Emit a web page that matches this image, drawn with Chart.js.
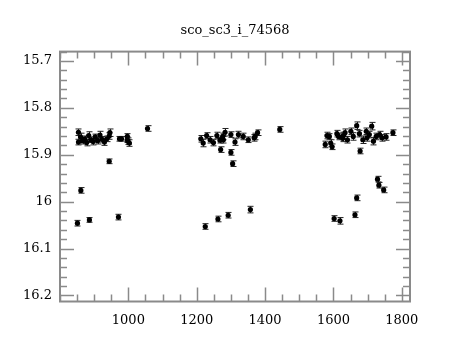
<!DOCTYPE html>
<html><head><meta charset="utf-8">
<script src="https://cdn.jsdelivr.net/npm/chart.js@4"></script>
<style>html,body{margin:0;padding:0;background:#fff}</style></head><body>
<canvas id="c" width="460" height="340" style="width:460px;height:340px;display:block"></canvas>
<script>
const titleText = 'sco_sc3_i_74568';
const jd = [
 854,854,861,851,886,944,971,1056,
 860,866,872,878,884,890,897,903,910,917,923,930,937,944,946,
 974,980,997,1003,997,999,
 1270,1300,1305,1225,1262,1292,1357,1443,
 1300,1322,1312,1336,1351,1371,1378,1368,
 1212,1219,1229,1239,1249,1259,1268,1276,1283,1278,
 1576,1581,1588,1592,1596,1602,1619,1663,1668,1678,1729,1733,1747,1774,
 1610,1615,1627,1634,1641,1651,1658,1668,1676,1686,1696,1705,1712,1717,1725,1735,1742,1754,1629,1698
];
const mag = [
 15.852,15.873,15.976,16.046,16.039,15.914,16.033,15.844,
 15.862,15.870,15.866,15.874,15.859,15.868,15.872,15.862,15.870,15.858,15.867,15.873,15.866,15.860,15.853,
 15.866,15.866,15.868,15.875,15.861,15.871,
 15.889,15.895,15.919,16.053,16.037,16.029,16.017,15.846,
 15.857,15.857,15.873,15.861,15.868,15.861,15.853,15.864,
 15.866,15.875,15.859,15.868,15.874,15.859,15.869,15.861,15.852,15.868,
 15.878,15.859,15.861,15.875,15.883,16.036,16.041,16.028,15.992,15.892,15.952,15.965,15.975,15.853,
 15.855,15.861,15.865,15.853,15.868,15.850,15.861,15.838,15.855,15.868,15.850,15.857,15.839,15.871,15.861,15.857,15.864,15.862,15.859,15.864
];
const err = [
 0.007,0.006,0.006,0.006,0.005,0.005,0.006,0.006,
 0.008,0.007,0.006,0.007,0.008,0.006,0.007,0.006,0.007,0.008,0.006,0.007,0.006,0.007,0.008,
 0.005,0.005,0.006,0.007,0.006,0.007,
 0.006,0.006,0.006,0.006,0.006,0.006,0.007,0.006,
 0.006,0.007,0.007,0.007,0.006,0.007,0.006,0.007,
 0.007,0.008,0.006,0.007,0.007,0.007,0.006,0.007,0.008,0.007,
 0.007,0.007,0.006,0.007,0.006,0.006,0.007,0.006,0.006,0.006,0.006,0.006,0.006,0.006,
 0.007,0.007,0.007,0.008,0.007,0.007,0.008,0.008,0.007,0.008,0.007,0.007,0.008,0.008,0.007,0.007,0.007,0.007,0.007,0.007
];
const xMin = 800, xMax = 1824;
const yMin = 15.68, yMax = 16.213;
const xTicks = [1000, 1200, 1400, 1600, 1800];
const xTickLabels = ['1000', '1200', '1400', '1600', '1800'];
const yTicks = [15.7, 15.8, 15.9, 16, 16.1, 16.2];
const yTickLabels = ['15.7', '15.8', '15.9', '16', '16.1', '16.2'];
const xMinorStep = 50, yMinorStep = 0.02;

const points = jd.map((x, i) => ({x: x, y: mag[i], e: err[i]}));
const FONT = {family: '"DejaVu Serif", serif', size: 13, weight: 'normal'};
const AXIS = '#8a8a8a';

const framePlugin = {
  id: 'frame',
  beforeDatasetsDraw(chart) {
    const ctx = chart.ctx, xs = chart.scales.x, ys = chart.scales.y;
    ctx.save();
    ctx.strokeStyle = '#222';
    ctx.lineWidth = 1;
    chart.data.datasets[0].data.forEach(p => {
      const px = Math.round(xs.getPixelForValue(p.x)) + 0.5;
      const t = ys.getPixelForValue(p.y - p.e), b = ys.getPixelForValue(p.y + p.e);
      ctx.beginPath();
      ctx.moveTo(px, t); ctx.lineTo(px, b);
      ctx.moveTo(px - 3, t); ctx.lineTo(px + 3, t);
      ctx.moveTo(px - 3, b); ctx.lineTo(px + 3, b);
      ctx.stroke();
    });
    ctx.restore();
  },
  afterDraw(chart) {
    const ctx = chart.ctx, a = chart.chartArea, xs = chart.scales.x, ys = chart.scales.y;
    ctx.save();
    ctx.strokeStyle = AXIS;
    ctx.lineWidth = 1.5;
    ctx.beginPath();
    for (let v = xMin; v <= xMax + 1e-9; v += xMinorStep) {
      const px = Math.round(xs.getPixelForValue(v)) + 0.5;
      const major = xTicks.includes(v);
      const L = major ? 14 : 7;
      ctx.moveTo(px, a.bottom); ctx.lineTo(px, a.bottom - L);
      ctx.moveTo(px, a.top); ctx.lineTo(px, a.top + L);
    }
    for (let k = 0; ; k++) {
      const v = +(15.68 + k * yMinorStep).toFixed(3);
      if (v > yMax) break;
      const py = Math.round(ys.getPixelForValue(v)) + 0.5;
      const major = yTicks.some(t => Math.abs(t - v) < 1e-6);
      const L = major ? 14 : 7;
      ctx.moveTo(a.left, py); ctx.lineTo(a.left + L, py);
      ctx.moveTo(a.right, py); ctx.lineTo(a.right - L, py);
    }
    ctx.stroke();
    ctx.lineWidth = 2;
    ctx.strokeRect(a.left, a.top, a.right - a.left, a.bottom - a.top);
    ctx.restore();
  }
};

new Chart(document.getElementById('c'), {
  type: 'scatter',
  data: {datasets: [{
    data: points,
    backgroundColor: '#000',
    borderWidth: 0,
    pointRadius: 2.6,
    pointHoverRadius: 2.6
  }]},
  options: {
    responsive: false,
    animation: false,
    devicePixelRatio: 1,
    layout: {padding: {left: 0, right: 50, top: 0, bottom: 0}},
    plugins: {
      legend: {display: false},
      tooltip: {enabled: false},
      title: {display: true, fullSize: false, text: titleText, color: '#000', font: FONT, padding: {top: 23, bottom: 13}}
    },
    scales: {
      x: {
        type: 'linear', min: xMin, max: xMax,
        grid: {display: false, drawTicks: false},
        border: {display: false},
        afterBuildTicks: s => { s.ticks = xTicks.map(v => ({value: v})); },
        afterFit: s => { s.height = 38.5; },
        ticks: {color: '#000', font: FONT, padding: 11, maxRotation: 0, autoSkip: false,
          callback: v => xTickLabels[xTicks.indexOf(v)]}
      },
      y: {
        type: 'linear', reverse: true, min: yMin, max: yMax,
        grid: {display: false, drawTicks: false},
        border: {display: false},
        afterBuildTicks: s => { s.ticks = yTicks.map(v => ({value: v})); },
        afterFit: s => { s.width = 60; },
        ticks: {color: '#000', font: FONT, padding: 8, autoSkip: false,
          callback: (v, i) => yTickLabels[i]}
      }
    }
  },
  plugins: [framePlugin]
});
</script>
</body></html>
